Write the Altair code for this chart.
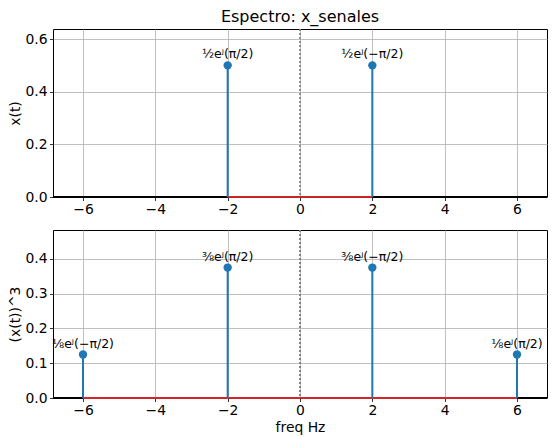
import altair as alt
import pandas as pd

# ---- data ----
freq_top = [-2, 2]
amp_top = [0.5, 0.5]
lab_top = ["½eʲ(π/2)", "½eʲ(−π/2)"]

freq_bot = [-6, -2, 2, 6]
amp_bot = [0.125, 0.375, 0.375, 0.125]
lab_bot = ["⅛eʲ(−π/2)", "⅜eʲ(π/2)", "⅜eʲ(−π/2)", "⅛eʲ(π/2)"]

x_ticks = [-6, -4, -2, 0, 2, 4, 6]
y_ticks_top = [0.0, 0.2, 0.4, 0.6]
y_ticks_bot = [0.0, 0.1, 0.2, 0.3, 0.4]
x_dom = [-6.83, 6.83]
ytop_dom = [0, 0.638]
ybot_dom = [0, 0.483]

BLUE = "#1f77b4"
RED = "#d62728"
FONT = "DejaVu Sans"


def panel(freq, amp, labels, ydom, yticks, ytitle, xtitle):
    df = pd.DataFrame({"f": freq, "a": amp, "lab": labels})
    xscale = alt.Scale(domain=x_dom, nice=False, zero=False)
    yscale = alt.Scale(domain=ydom, nice=False, zero=False)
    xaxis = alt.Axis(values=x_ticks, title=xtitle, format="d", labelPadding=2, titlePadding=3)
    yaxis = alt.Axis(values=yticks, title=ytitle, format=".1f", labelPadding=2.5, titlePadding=2)
    base = alt.Chart(df)

    hline = base.mark_rule(color="black", strokeWidth=2).encode(
        y=alt.Y(datum=0, scale=yscale, axis=yaxis)
    )
    vline = base.mark_rule(color="gray", strokeWidth=1.2, strokeDash=[2, 2]).encode(
        x=alt.X(datum=0, scale=xscale, axis=xaxis)
    )
    baseline = base.mark_rule(color=RED, strokeWidth=1.5).encode(
        x=alt.X(datum=min(freq), scale=xscale, axis=xaxis),
        x2=alt.X2(datum=max(freq)),
        y=alt.Y(datum=0, scale=yscale, axis=yaxis),
    )
    stems = base.mark_rule(color=BLUE, strokeWidth=2).encode(
        x=alt.X("f:Q", scale=xscale, axis=xaxis),
        y=alt.Y("a:Q", scale=yscale, axis=yaxis),
        y2=alt.Y2(datum=0),
    )
    pts = base.mark_point(filled=True, color=BLUE, size=70, opacity=1).encode(
        x=alt.X("f:Q", scale=xscale, axis=xaxis),
        y=alt.Y("a:Q", scale=yscale, axis=yaxis),
    )
    txt = base.mark_text(baseline="bottom", align="center", dy=-4, fontSize=12.5,
                         font=FONT, color="black").encode(
        x=alt.X("f:Q", scale=xscale, axis=xaxis),
        y=alt.Y("a:Q", scale=yscale, axis=yaxis),
        text="lab:N",
    )
    return alt.layer(hline, vline, baseline, stems, pts, txt).properties(width=494, height=168)


top = panel(freq_top, amp_top, lab_top, ytop_dom, y_ticks_top, "x(t)", None).properties(
    title=alt.TitleParams("Espectro: x_senales", fontSize=16, fontWeight="normal",
                          font=FONT, anchor="middle", offset=-3, dy=-6, color="black")
)
bot = panel(freq_bot, amp_bot, lab_bot, ybot_dom, y_ticks_bot, "(x(t))^3", "freq Hz")

chart = alt.vconcat(top, bot, spacing=11).properties(
    padding={"left": 0, "top": 0, "right": 0, "bottom": 0}
).configure_view(
    stroke="black", strokeWidth=1
).configure_axis(
    grid=True, gridColor="#b0b0b0", gridWidth=0.8,
    domain=False, tickColor="black", tickSize=3.5, tickWidth=0.8,
    labelFont=FONT, labelFontSize=13.9, labelColor="black", labelPadding=3.5,
    titleFont=FONT, titleFontSize=13.9, titleFontWeight="normal", titleColor="black",
    titlePadding=4,
)

chart.save("out.html", embed_options={"renderer": "svg", "actions": False})
